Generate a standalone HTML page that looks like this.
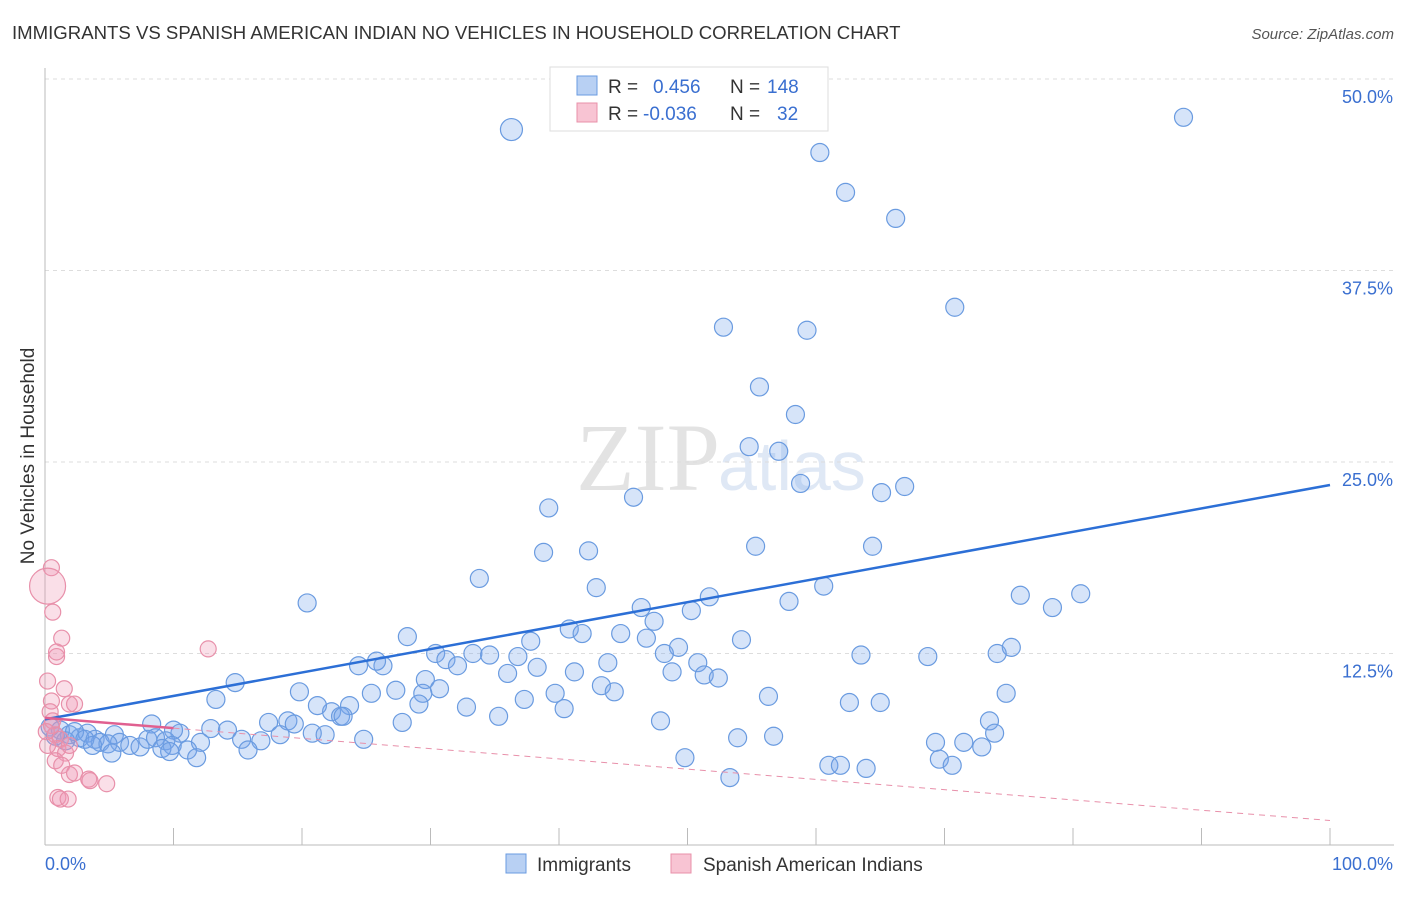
<!DOCTYPE html>
<html><head><meta charset="utf-8"><style>
body{margin:0;background:#fff;font-family:"Liberation Sans",sans-serif;}
</style></head><body>
<svg width="1406" height="892" xmlns="http://www.w3.org/2000/svg" font-family="Liberation Sans, sans-serif">
<text x="12" y="39" font-size="18.6" fill="#333">IMMIGRANTS VS SPANISH AMERICAN INDIAN NO VEHICLES IN HOUSEHOLD CORRELATION CHART</text>
<text x="1394" y="39" font-size="15" fill="#555" font-style="italic" text-anchor="end">Source: ZipAtlas.com</text>
<text x="720" y="490" font-size="96" fill="#e3e3e3" text-anchor="end" font-family="Liberation Serif, serif">ZIP</text>
<text x="718" y="490" font-size="70" fill="#dfe8f5">atlas</text>
<g id="grid"></g>
<g id="axes"></g>
<g id="marks"></g>
<text transform="translate(34,456) rotate(-90)" font-size="19" fill="#333" text-anchor="middle">No Vehicles in Household</text>
<g>
<rect x="550" y="67" width="278" height="64" fill="#fff" stroke="#ddd"/>
<rect x="577" y="76" width="20" height="19" fill="#b8d0f3" stroke="#6a9be0"/>
<rect x="577" y="103" width="20" height="19" fill="#f8c4d3" stroke="#e890aa"/>
<text x="608" y="93" font-size="19" fill="#333">R =</text>
<text x="653" y="93" font-size="19" fill="#3a6fd0">0.456</text>
<text x="730" y="93" font-size="19" fill="#333">N =</text>
<text x="767" y="93" font-size="19" fill="#3a6fd0">148</text>
<text x="608" y="120" font-size="19" fill="#333">R =</text>
<text x="643" y="120" font-size="19" fill="#3a6fd0">-0.036</text>
<text x="730" y="120" font-size="19" fill="#333">N =</text>
<text x="777" y="120" font-size="19" fill="#3a6fd0">32</text>
</g>
<g>
<rect x="506" y="854" width="20" height="19" fill="#b8d0f3" stroke="#6a9be0"/>
<text x="537" y="871" font-size="19" fill="#333">Immigrants</text>
<rect x="671" y="854" width="20" height="19" fill="#f8c4d3" stroke="#e890aa"/>
<text x="703" y="871" font-size="19" fill="#333">Spanish American Indians</text>
</g>
</svg>
<script>
const blueX=[],blueY=[];
const bluePx=[[512,130],[1184,118],[820,152],[845,193],[896,218],[955,308],[723,327],[807,330],[760,387],[796,415],[749,447],[779,451],[801,483],[882,492],[905,486],[633,498],[549,508],[544,553],[589,551],[755,546],[872,547],[479,579],[596,588],[824,586],[709,597],[789,601],[1020,595],[1081,593],[1053,607],[307,603],[641,608],[691,611],[569,629],[654,622],[582,633],[621,634],[408,636],[531,641],[646,638],[742,639],[679,647],[1011,647],[997,654],[861,655],[928,657],[664,653],[435,654],[446,660],[473,654],[489,655],[518,657],[457,666],[383,665],[376,661],[358,665],[537,667],[608,663],[698,663],[575,672],[672,672],[507,673],[704,675],[718,678],[235,682],[602,685],[614,692],[555,694],[426,680],[440,688],[396,690],[371,694],[423,694],[300,692],[216,699],[768,697],[1006,693],[524,700],[564,709],[419,704],[466,707],[350,706],[332,711],[318,706],[850,702],[880,703],[340,716],[343,717],[498,717],[402,722],[152,724],[288,721],[268,723],[294,724],[660,721],[989,721],[211,729],[228,730],[180,733],[174,730],[994,733],[312,733],[280,734],[325,735],[241,739],[261,741],[364,739],[737,737],[774,736],[936,742],[964,742],[982,747],[115,735],[120,742],[130,745],[140,747],[148,740],[156,738],[166,741],[172,746],[200,743],[188,750],[197,758],[248,750],[685,757],[829,765],[840,766],[866,769],[730,777],[939,759],[952,766],[50,727],[60,730],[70,735],[80,737],[88,733],[95,739],[100,742],[108,744],[112,753],[65,741],[55,736],[75,732],[85,740],[92,746],[162,748],[170,752]];
bluePx.forEach(p=>{blueX.push(+((p[0]-45)/12.85).toFixed(1));blueY.push(+((845-p[1])/15.32).toFixed(1));});
const pinkX=[0.5,0.6,1.3,0.9,0.9,0.2,1.5,0.5,1.9,2.3,12.7,0.2,0.5,0.8,1.2,1.0,1.6,1.9,0.8,1.3,1.9,2.3,3.4,3.5,4.8,1.0,1.2,1.8,0.2,0.4,0.6,0.1];
const pinkY=[18.1,15.2,13.5,12.3,12.6,10.7,10.2,9.4,9.2,9.2,12.8,16.9,7.8,7.2,6.9,6.3,6.0,6.5,5.5,5.2,4.6,4.7,4.3,4.2,4.0,3.1,3.0,3.0,6.5,8.7,8.1,7.4];
const pinkR=[8,8,8,8,8,8,8,8,8,8,8,18,8,8,8,8,8,8,8,8,8,8,8,8,8,8,8,8,8,8,8,8];
const yTicks=[12.5,25,37.5,50];
const xTickLabels=["0.0%","100.0%"];
const blueFit=[8.2,23.5], pinkFit=[8.3,1.6];
const X=v=>45+v*12.85, Y=v=>845-v*15.32;
const NS="http://www.w3.org/2000/svg";
function mk(t,a,parent){const e=document.createElementNS(NS,t);for(const k in a)e.setAttribute(k,a[k]);document.getElementById(parent).appendChild(e);return e;}
yTicks.forEach(v=>{
 const g=mk('line',{x1:45,x2:1394,y1:Y(v),y2:Y(v),stroke:'#ddd','stroke-dasharray':'4,4'},'grid');
 
 
 const t=mk('text',{x:1393,y:Y(v)+24,'font-size':18,fill:'#3a6fd0','text-anchor':'end'},'grid');
 t.textContent=v.toFixed(1)+'%';
 
 
});
mk('line',{x1:45,x2:45,y1:68,y2:845,stroke:'#bbb'},'axes');
mk('line',{x1:45,x2:1394,y1:845,y2:845,stroke:'#bbb'},'axes');
for(let i=0;i<=10;i++){const l=mk('line',{x1:X(i*10),x2:X(i*10),y1:828,y2:845,stroke:'#bbb'},'axes');
 
 }
const t0=mk('text',{x:45,y:870,'font-size':18,fill:'#3a6fd0'},'axes');t0.textContent=xTickLabels[0];


const t1=mk('text',{x:1393,y:870,'font-size':18,fill:'#3a6fd0','text-anchor':'end'},'axes');t1.textContent=xTickLabels[1];


blueX.forEach((x,i)=>{const c=mk('circle',{cx:X(x),cy:Y(blueY[i]),r:i==0?11:9,fill:'rgba(120,165,235,0.3)',stroke:'#6a9be0','stroke-width':1.2},'marks');
 
 });
pinkX.forEach((x,i)=>{const c=mk('circle',{cx:X(x),cy:Y(pinkY[i]),r:pinkR[i],fill:'rgba(240,150,180,0.3)',stroke:'#e890aa','stroke-width':1.2},'marks');
 
 });
const bl=mk('line',{x1:X(0),y1:Y(blueFit[0]),x2:X(100),y2:Y(blueFit[1]),stroke:'#2c6fd6','stroke-width':2.5},'marks');


const ps=(v)=>pinkFit[0]+(pinkFit[1]-pinkFit[0])*v/100;
const pl=mk('line',{x1:X(0),y1:Y(ps(0)),x2:X(10),y2:Y(ps(10)),stroke:'#e06090','stroke-width':2.5},'marks');


const pd=mk('line',{x1:X(10),y1:Y(ps(10)),x2:X(100),y2:Y(ps(100)),stroke:'#e890aa','stroke-width':1,'stroke-dasharray':'6,5'},'marks');


</script>
</body></html>
